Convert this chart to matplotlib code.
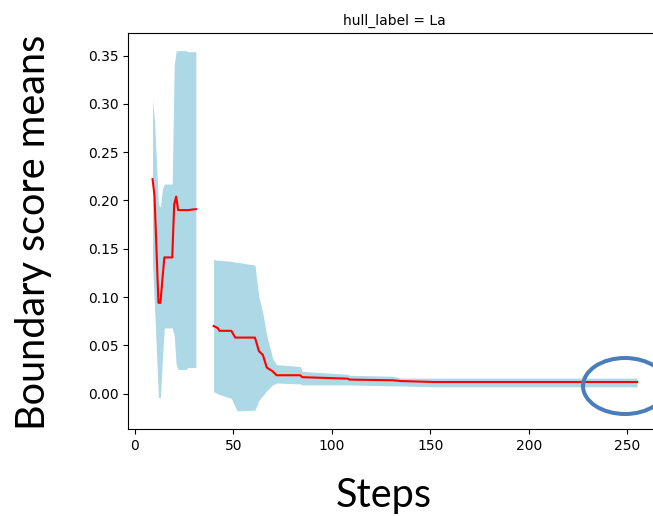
#!/usr/bin/env python3
# -*- coding: utf-8 -*-
"""
Boundary score means over the steps, hull_label = La, with the spread
shaded around the mean and the final plateau circled.
"""
import matplotlib.pyplot as plt
from matplotlib.patches import Ellipse

#%% data, two runs of steps with a gap between them
steps1 = [9, 10, 12, 13, 14, 15, 19, 20, 21, 22, 26, 27, 31]
mean1 = [0.222, 0.205, 0.094, 0.094, 0.118, 0.141, 0.141,
         0.196, 0.204, 0.190, 0.190, 0.190, 0.191]
lo1 = [0.135, 0.090, -0.004, -0.004, 0.035, 0.068, 0.068,
       0.060, 0.030, 0.025, 0.025, 0.027, 0.027]
hi1 = [0.305, 0.282, 0.196, 0.193, 0.212, 0.217, 0.217,
       0.340, 0.355, 0.355, 0.355, 0.354, 0.354]

steps2 = [40, 42, 43, 49, 51, 52, 61, 63, 65, 67, 70, 72,
          84, 85, 108, 109, 131, 135, 152, 255]
mean2 = [0.070, 0.068, 0.065, 0.065, 0.058, 0.058, 0.058, 0.044, 0.040,
         0.027, 0.023, 0.019, 0.019, 0.017, 0.0155, 0.0145, 0.0138,
         0.013, 0.012, 0.012]
lo2 = [0.002, 0.000, -0.001, -0.005, -0.014, -0.018, -0.017, -0.007,
       -0.002, 0.003, 0.009, 0.011, 0.010, 0.009, 0.009, 0.009, 0.008,
       0.008, 0.007, 0.007]
hi2 = [0.139, 0.138, 0.138, 0.137, 0.136, 0.136, 0.133, 0.100, 0.083,
       0.060, 0.036, 0.030, 0.028, 0.023, 0.020, 0.019, 0.018, 0.016,
       0.016, 0.016]

#%%
fig = plt.figure(figsize=(6.53, 5.16), dpi=100)
ax = fig.add_axes([0.1965, 0.1686, 0.8163, 0.768])

for s, m, lo, hi in [(steps1, mean1, lo1, hi1), (steps2, mean2, lo2, hi2)]:
    ax.fill_between(s, lo, hi, color='lightblue', linewidth=0)
    ax.plot(s, m, color='red', linewidth=1.5)

ax.set_title("hull_label = La", fontsize=10)
ax.tick_params(labelsize=10)

big = dict(family=['Lato', 'DejaVu Sans'], fontsize=28.5)
fig.text(0.052, 0.55, "Boundary score means", rotation=90,
         ha='center', va='center', **big)
fig.text(0.588, 0.04, "Steps", ha='center', va='center', **big)

# circle round the last steps
fig.patches.append(Ellipse((625 / 653, 130 / 516), 84 / 653, 56 / 516,
                           transform=fig.transFigure, fill=False,
                           edgecolor='#4A7EBB', linewidth=2.9))

fig.savefig("out.png", dpi=100)
